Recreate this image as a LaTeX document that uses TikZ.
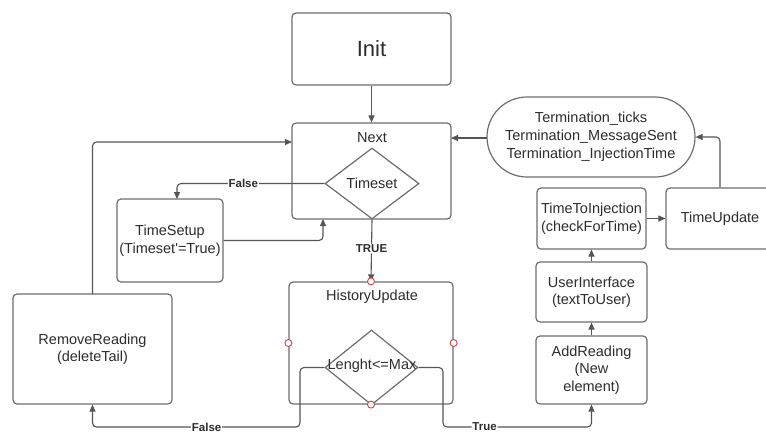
\documentclass[tikz,border=0pt]{standalone}
\usepackage{fontspec}
\setmainfont{Liberation Sans}
\usetikzlibrary{shapes.geometric,arrows.meta}
\definecolor{boxline}{RGB}{110,110,110}
\definecolor{conn}{RGB}{85,85,85}
\definecolor{txt}{RGB}{45,45,45}
\definecolor{pt}{RGB}{205,70,70}
\begin{document}
\begin{tikzpicture}[x=1pt,y=-1pt,
  font=\fontsize{14.5}{17.5}\selectfont,
  every node/.style={text=txt},
  box/.style={draw=boxline,line width=1.2pt,rounded corners=4pt,inner sep=0pt,align=center},
  dia/.style={draw=boxline,line width=1.2pt,shape=diamond,inner sep=0pt},
  lbl/.style={font=\fontsize{11.5}{13}\selectfont\bfseries,fill=white,inner sep=0.8pt},
  conn/.style={draw=conn,line width=1.1pt,rounded corners=4pt},
  arr/.style={conn,-{Triangle[length=7pt,width=6pt]}},
  cpt/.style={circle,draw=pt,fill=white,line width=0.9pt,minimum size=7pt,inner sep=0pt}
]
\useasboundingbox (0,0) rectangle (766,432);
\fill[white] (0,0) rectangle (766,432);

% nodes
\node[box,minimum width=159pt,minimum height=72pt,font=\fontsize{22}{26}\selectfont] (init) at (371.5,49) {Init};
\node[box,minimum width=159pt,minimum height=96pt] (next) at (371.5,171) {};
\node (nextlbl) at (372,138) {Next};
\node[dia,minimum width=94pt,minimum height=71pt] (timeset) at (372,183.5) {};
\node (timesetlbl) at (372,183.5) {Timeset};

\node[box,minimum width=106pt,minimum height=83pt] (setup) at (170,240.5) {TimeSetup\\(Timeset\textquotesingle=True)};

\node[box,minimum width=164pt,minimum height=122pt] (hist) at (371,343) {};
\node (histlbl) at (372,297) {HistoryUpdate};
\node[dia,minimum width=93pt,minimum height=75pt] (len) at (371.5,367.5) {};
\node (lenlbl) at (372,366) {Lenght<=Max};

\node[box,minimum width=159pt,minimum height=110pt] (remove) at (92.5,349) {RemoveReading\\(deleteTail)};

\node[box,rounded corners=40pt,minimum width=208pt,minimum height=80pt,font=\fontsize{14.5}{18}\selectfont] (term) at (591,137) {Termination\_ticks\\Termination\_MessageSent\\Termination\_InjectionTime};

\node[box,minimum width=109pt,minimum height=61pt] (tti) at (591.5,218.5) {TimeToInjection\\(checkForTime)};
\node[box,minimum width=108pt,minimum height=61pt] (tupd) at (720,218.5) {TimeUpdate};
\node[box,minimum width=111pt,minimum height=60pt] (ui) at (591.5,292) {UserInterface\\(textToUser)};
\node[box,minimum width=111pt,minimum height=68pt] (add) at (591.5,370) {AddReading\\(New\\element)};

% helper coordinates
\coordinate (falseA) at (177,183.5);
\coordinate (setupin) at (177,199);
\coordinate (nextbotin) at (323,219);
\coordinate (nextleftin) at (292,142);
\coordinate (remtop) at (92.5,294);
\coordinate (nextrightin) at (451,138);
\coordinate (termleft) at (487,138);

% connectors
\draw[arr] (init.south) -- (next.north);
\draw[arr] (timeset.west) -- node[lbl,pos=0.55] (flbl1) {False} (falseA) -- (setupin);
\draw[arr] (setup.east) -| (nextbotin);
\draw[arr] (timeset.south) -- node[lbl,pos=0.47] (tlbl) {TRUE} (hist.north);
\draw[arr] (remtop) |- (nextleftin);
\draw[arr] (termleft) -- (nextrightin);
\draw[arr] (tupd.north) |- (term.east);
\draw[arr] (tti.east) -- (tupd.west);
\draw[arr] (ui.north) -- (tti.south);
\draw[arr] (add.north) -- (ui.south);
\draw[arr] (len.west) -- (300,367.5) -- (300,427) -- node[lbl,pos=0.45] (flbl2) {False} (92.5,427) -- (remove.south);
\draw[arr] (len.east) -- (443,367.5) -- (443,427) -- node[lbl,pos=0.28] (tlbl2) {True} (591.5,427) -- (add.south);

% connection points
\node[cpt] (c1) at (hist.north) {};
\node[cpt] (c2) at (hist.west) {};
\node[cpt] (c3) at (hist.east) {};
\node[cpt] (c4) at (hist.south) {};
\end{tikzpicture}
\end{document}
